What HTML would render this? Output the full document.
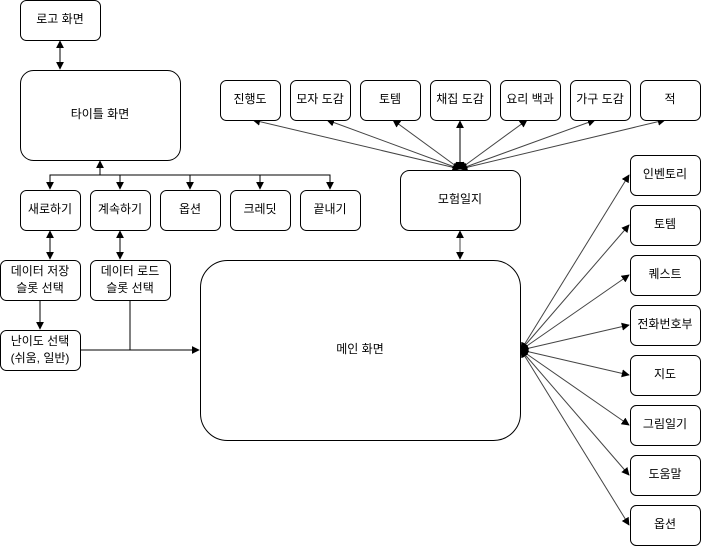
<!DOCTYPE html>
<html><head><meta charset="utf-8"><style>
body{margin:0;background:#fff}
svg{display:block}
text{font-family:"Liberation Sans","Noto Sans CJK KR",sans-serif;font-size:12px;fill:#000;text-anchor:middle;dominant-baseline:middle}
rect{fill:#fff;stroke:#000;stroke-width:1}
line,polyline{stroke:#000;stroke-width:1;fill:none}
.g{stroke:#444}
</style></head><body>
<svg width="701" height="546" viewBox="0 0 701 546">
<defs>
<marker id="a" viewBox="0 0 10 10" refX="9" refY="5" markerWidth="8" markerHeight="8" orient="auto-start-reverse" markerUnits="userSpaceOnUse"><path d="M0,0 L10,5 L0,10 z" fill="#000"/></marker>
</defs>
<line x1="60" y1="41" x2="60" y2="69" marker-start="url(#a)" marker-end="url(#a)"/>
<line x1="100" y1="175" x2="100" y2="161" marker-end="url(#a)"/>
<polyline points="50,189 50,175 330,175 330,189" marker-start="url(#a)" marker-end="url(#a)"/>
<line x1="120" y1="175" x2="120" y2="189" marker-end="url(#a)"/>
<line x1="190" y1="175" x2="190" y2="189" marker-end="url(#a)"/>
<line x1="260" y1="175" x2="260" y2="189" marker-end="url(#a)"/>
<line x1="50" y1="231" x2="50" y2="259" marker-start="url(#a)" marker-end="url(#a)"/>
<line x1="120" y1="231" x2="120" y2="259" marker-start="url(#a)" marker-end="url(#a)"/>
<line x1="40" y1="300" x2="40" y2="329" marker-end="url(#a)"/>
<line x1="80" y1="350" x2="199" y2="350" marker-end="url(#a)"/>
<line x1="130" y1="300" x2="130" y2="350"/>
<line class="g" x1="460" y1="231" x2="460" y2="259" marker-start="url(#a)" marker-end="url(#a)"/>
<line class="g" x1="460" y1="169" x2="253" y2="120" marker-start="url(#a)" marker-end="url(#a)"/>
<line class="g" x1="460" y1="169" x2="327" y2="120" marker-start="url(#a)" marker-end="url(#a)"/>
<line class="g" x1="460" y1="169" x2="393" y2="120" marker-start="url(#a)" marker-end="url(#a)"/>
<line x1="460" y1="169" x2="460" y2="121" marker-start="url(#a)" marker-end="url(#a)"/>
<line class="g" x1="460" y1="169" x2="527" y2="120" marker-start="url(#a)" marker-end="url(#a)"/>
<line class="g" x1="460" y1="169" x2="595" y2="120" marker-start="url(#a)" marker-end="url(#a)"/>
<line class="g" x1="460" y1="169" x2="665" y2="120" marker-start="url(#a)" marker-end="url(#a)"/>
<line class="g" x1="521" y1="350" x2="629" y2="175" marker-start="url(#a)" marker-end="url(#a)"/>
<line class="g" x1="521" y1="350" x2="629" y2="225" marker-start="url(#a)" marker-end="url(#a)"/>
<line class="g" x1="521" y1="350" x2="629" y2="275" marker-start="url(#a)" marker-end="url(#a)"/>
<line class="g" x1="521" y1="350" x2="629" y2="325" marker-start="url(#a)" marker-end="url(#a)"/>
<line class="g" x1="521" y1="350" x2="629" y2="375" marker-start="url(#a)" marker-end="url(#a)"/>
<line class="g" x1="521" y1="350" x2="629" y2="425" marker-start="url(#a)" marker-end="url(#a)"/>
<line class="g" x1="521" y1="350" x2="629" y2="475" marker-start="url(#a)" marker-end="url(#a)"/>
<line class="g" x1="521" y1="350" x2="629" y2="525" marker-start="url(#a)" marker-end="url(#a)"/>
<rect x="20.5" y="0.5" width="80" height="40" rx="6"/><text x="60" y="20">로고 화면</text>
<rect x="20.5" y="70.5" width="160" height="90" rx="13"/><text x="100" y="115">타이틀 화면</text>
<rect x="20.5" y="190.5" width="60" height="40" rx="6"/><text x="50" y="210">새로하기</text>
<rect x="90.5" y="190.5" width="60" height="40" rx="6"/><text x="120" y="210">계속하기</text>
<rect x="160.5" y="190.5" width="60" height="40" rx="6"/><text x="190" y="210">옵션</text>
<rect x="230.5" y="190.5" width="60" height="40" rx="6"/><text x="260" y="210">크레딧</text>
<rect x="300.5" y="190.5" width="60" height="40" rx="6"/><text x="330" y="210">끝내기</text>
<rect x="0.5" y="260.5" width="80" height="40" rx="6"/><text x="40" y="272">데이터 저장</text><text x="40" y="289">슬롯 선택</text>
<rect x="90.5" y="260.5" width="80" height="40" rx="6"/><text x="130" y="272">데이터 로드</text><text x="130" y="289">슬롯 선택</text>
<rect x="0.5" y="330.5" width="80" height="40" rx="6"/><text x="40" y="342">난이도 선택</text><text x="40" y="359">(쉬움, 일반)</text>
<rect x="200.5" y="260.5" width="320" height="180" rx="27"/><text x="360" y="350">메인 화면</text>
<rect x="400.5" y="170.5" width="120" height="60" rx="9"/><text x="460" y="200">모험일지</text>
<rect x="220.5" y="80.5" width="60" height="40" rx="6"/><text x="250" y="100">진행도</text>
<rect x="290.5" y="80.5" width="60" height="40" rx="6"/><text x="320" y="100">모자 도감</text>
<rect x="360.5" y="80.5" width="60" height="40" rx="6"/><text x="390" y="100">토템</text>
<rect x="430.5" y="80.5" width="60" height="40" rx="6"/><text x="460" y="100">채집 도감</text>
<rect x="500.5" y="80.5" width="60" height="40" rx="6"/><text x="530" y="100">요리 백과</text>
<rect x="570.5" y="80.5" width="60" height="40" rx="6"/><text x="600" y="100">가구 도감</text>
<rect x="640.5" y="80.5" width="60" height="40" rx="6"/><text x="670" y="100">적</text>
<rect x="630.5" y="155.5" width="70" height="40" rx="6"/><text x="665" y="175">인벤토리</text>
<rect x="630.5" y="205.5" width="70" height="40" rx="6"/><text x="665" y="225">토템</text>
<rect x="630.5" y="255.5" width="70" height="40" rx="6"/><text x="665" y="275">퀘스트</text>
<rect x="630.5" y="305.5" width="70" height="40" rx="6"/><text x="665" y="325">전화번호부</text>
<rect x="630.5" y="355.5" width="70" height="40" rx="6"/><text x="665" y="375">지도</text>
<rect x="630.5" y="405.5" width="70" height="40" rx="6"/><text x="665" y="425">그림일기</text>
<rect x="630.5" y="455.5" width="70" height="40" rx="6"/><text x="665" y="475">도움말</text>
<rect x="630.5" y="505.5" width="70" height="40" rx="6"/><text x="665" y="525">옵션</text>
</svg>
</body></html>
